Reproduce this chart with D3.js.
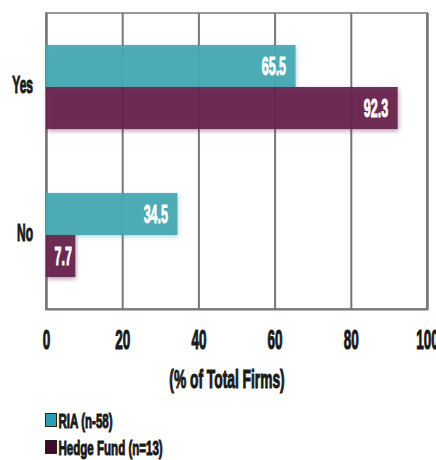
<!DOCTYPE html>
<html>
<head>
<meta charset="utf-8">
<script src="https://cdn.jsdelivr.net/npm/d3@7"></script>
<style>
  html, body { margin: 0; padding: 0; background: #fff; }
  svg { display: block; }
  text { font-family: "Liberation Sans", Arial, sans-serif; font-weight: bold; }
  text.dark { fill: #1a1a1a; stroke: #1a1a1a; stroke-width: 1.1px; }
  text.value { fill: #fff; stroke: #fff; stroke-width: 0.9px; }
</style>
</head>
<body>
<svg id="chart" width="436" height="460"></svg>
<script>
// Share of firms answering each question, by firm type
const categories = ["Yes", "No"];
const seriesNames = ["RIA (n-58)", "Hedge Fund (n=13)"];
const riaValues = [65.5, 34.5];
const hedgeFundValues = [92.3, 7.7];
const xTicks = [0, 20, 40, 60, 80, 100];
const xTitle = "(% of Total Firms)";

const colors = ["#47a8b4", "#66214d"];
const legendColors = ["#2b9fb2", "#3b0a2c"];

const rows = categories.map((c, i) => ({
  category: c,
  values: [riaValues[i], hedgeFundValues[i]]
}));

const svg = d3.select("#chart");
const plot = { left: 46, right: 427, top: 13, bottom: 309 };

const x = d3.scaleLinear().domain([0, 100]).range([plot.left, plot.right]);
const y = d3.scaleBand().domain(categories)
  .range([plot.top, plot.bottom])
  .paddingInner(0.432).paddingOuter(0.216);
const ySub = d3.scaleBand().domain(d3.range(seriesNames.length))
  .range([0, y.bandwidth()]);

// Soft glow under each bar
const defs = svg.append("defs");
colors.forEach((c, i) => {
  const f = defs.append("filter").attr("id", "glow" + i)
    .attr("x", "-10%").attr("y", "-20%").attr("width", "120%").attr("height", "150%");
  f.append("feDropShadow").attr("dx", 1).attr("dy", 2).attr("stdDeviation", 2)
    .attr("flood-color", c).attr("flood-opacity", 0.45);
});

// Frame and vertical grid
const frameColor = "#767676";
svg.append("rect")
  .attr("x", plot.left).attr("y", plot.top)
  .attr("width", plot.right - plot.left).attr("height", plot.bottom - plot.top)
  .attr("fill", "none").attr("stroke", "#999").attr("stroke-width", 2);

const grid = svg.append("g")
  .attr("transform", `translate(0,${plot.bottom})`)
  .call(d3.axisBottom(x).tickValues(xTicks)
    .tickSize(-(plot.bottom - plot.top)).tickFormat(d => d));
grid.select(".domain").attr("stroke", frameColor).attr("stroke-width", 2);
grid.selectAll(".tick line").attr("stroke", frameColor).attr("stroke-width", 2);
grid.selectAll(".tick text")
  .attr("class", "dark")
  .attr("y", 40).attr("dy", 0)
  .style("font-size", "27px")
  .attr("transform", "scale(0.5,1)");

// Category labels
const yAxis = svg.append("g")
  .attr("transform", `translate(${plot.left},0)`)
  .call(d3.axisLeft(y).tickSize(0));
yAxis.select(".domain").remove();
yAxis.selectAll(".tick text")
  .attr("class", "dark")
  .attr("x", 0).attr("dy", 0)
  .attr("text-anchor", "end")
  .style("font-size", "24px")
  .attr("transform", "translate(-13,6) scale(0.5,1)");

// Bars
const groups = svg.append("g").selectAll("g")
  .data(rows).join("g")
  .attr("transform", d => `translate(0,${y(d.category)})`);

groups.selectAll("rect")
  .data(d => d.values.map((v, i) => ({ v, i })))
  .join("rect")
  .attr("x", x(0))
  .attr("y", d => ySub(d.i))
  .attr("width", d => x(d.v) - x(0))
  .attr("height", ySub.bandwidth())
  .attr("fill", d => colors[d.i])
  .attr("fill-opacity", 0.93)
  .attr("filter", d => `url(#glow${d.i})`);

// Value labels sit inside the bar end; short bars get a tighter inset
groups.selectAll("text.value")
  .data(d => d.values.map((v, i) => ({ v, i })))
  .join("text")
  .attr("class", "value")
  .attr("text-anchor", "end")
  .style("font-size", "25px")
  .attr("transform", d => {
    const inset = (x(d.v) - x(0)) < 60 ? 3.5 : 9.5;
    return `translate(${x(d.v) - inset},${ySub(d.i) + ySub.bandwidth() / 2 + 9}) scale(0.5,1)`;
  })
  .text(d => d3.format(".1f")(d.v));

// Axis title
svg.append("text")
  .attr("class", "dark")
  .attr("text-anchor", "middle")
  .style("font-size", "26px")
  .attr("transform", "translate(227,388) scale(0.53,1)")
  .text(xTitle);

// Legend
const legend = svg.append("g").attr("transform", "translate(45,413)");
const items = legend.selectAll("g").data(seriesNames).join("g")
  .attr("transform", (d, i) => `translate(0,${i * 27})`);
items.append("rect")
  .attr("x", 0.5).attr("y", 0.5).attr("width", 11).attr("height", 13)
  .attr("fill", (d, i) => legendColors[i])
  .attr("stroke", "#222").attr("stroke-width", 1);
items.append("text")
  .attr("class", "dark")
  .style("font-size", "21px")
  .attr("transform", "translate(13.5,15) scale(0.55,1)")
  .text(d => d);
</script>
</body>
</html>
